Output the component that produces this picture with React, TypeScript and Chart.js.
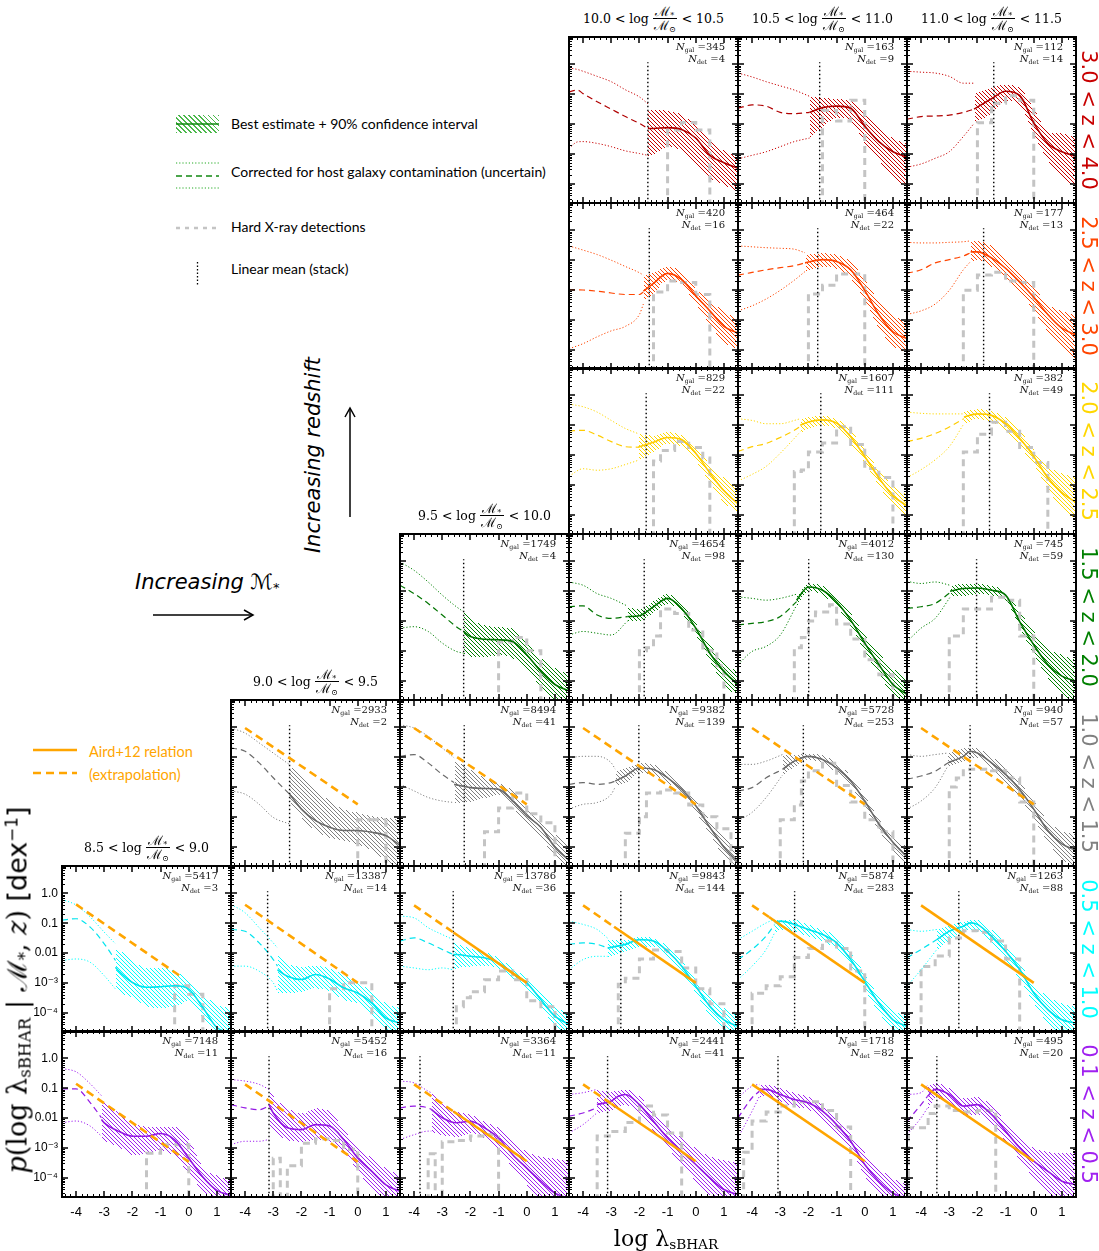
import React, { useEffect, useRef } from 'react';
import { Chart, registerables } from 'chart.js';

Chart.register(...registerables);

// ---------------- axes ----------------
const X_MIN = -4.5;
const X_MAX = 1.5;
const Y_MIN = -4.65;
const Y_MAX = 0.92;
const xTickValues = [-4, -3, -2, -1, 0, 1];
const xTickLabels = ['-4', '-3', '-2', '-1', '0', '1'];
const yTickValues = [-4, -3, -2, -1, 0];
const yTickLabels = ['10⁻⁴', '10⁻³', '0.01', '0.1', '1.0'];

// ---------------- rows (redshift) / columns (mass) ----------------
const zLabels = ['3.0 < z < 4.0', '2.5 < z < 3.0', '2.0 < z < 2.5', '1.5 < z < 2.0', '1.0 < z < 1.5', '0.5 < z < 1.0', '0.1 < z < 0.5'];
const massLow = ['8.5', '9.0', '9.5', '10.0', '10.5', '11.0'];
const massHigh = ['9.0', '9.5', '10.0', '10.5', '11.0', '11.5'];
const rowColors = ['#c80000', '#ff4500', '#ffd700', '#008000', '#808080', '#00ffff', '#a020f0'];
const rowLineColors = ['#b00000', '#ff4500', '#ffcc00', '#007400', '#6a6a6a', '#00e4ee', '#9418e4'];

// ---------------- panels ----------------
const panelRow = [0, 0, 0, 1, 1, 1, 2, 2, 2, 3, 3, 3, 3, 4, 4, 4, 4, 4, 5, 5, 5, 5, 5, 5, 6, 6, 6, 6, 6, 6];
const panelCol = [3, 4, 5, 3, 4, 5, 3, 4, 5, 2, 3, 4, 5, 1, 2, 3, 4, 5, 0, 1, 2, 3, 4, 5, 0, 1, 2, 3, 4, 5];
const nGal = [345, 163, 112, 420, 464, 177, 829, 1607, 382, 1749, 4654, 4012, 745, 2933, 8494, 9382, 5728, 940, 5417, 13387, 13786, 9843, 5874, 1263, 7148, 5452, 3364, 2441, 1718, 495];
const nDet = [4, 9, 14, 16, 22, 13, 22, 111, 49, 4, 98, 130, 59, 2, 41, 139, 253, 57, 3, 14, 36, 144, 283, 88, 11, 16, 11, 41, 82, 20];
const meanX: (number | null)[] = [-1.7, -1.6, -1.42, -1.65, -1.67, -1.78, -1.76, -1.56, -1.57, -2.24, -1.83, -1.99, -2.03, -2.42, -2.22, -2.02, -2.18, -2.26, null, -3.2, -2.61, -2.66, -2.49, -2.66, null, -3.15, -3.79, -3.13, -3.08, -3.44];

// best estimate + 90% interval: [log lambda, lower, best, upper] (log10 p)
const bandRows: number[][][] = [
  [[-1.7, -3.05, -2.15, -1.5], [-1.5, -2.99, -2.15, -1.5], [-1, -2.76, -2.12, -1.55], [-0.5, -2.88, -2.18, -1.67], [0, -3.34, -2.47, -2.07], [0.5, -3.8, -3.05, -2.53], [1, -4.03, -3.3, -2.88], [1.5, -4.26, -3.48, -3.1]],
  [[-1.96, -2.47, -1.61, -1.07], [-1.5, -2.07, -1.45, -1.1], [-1, -1.78, -1.4, -1.15], [-0.5, -1.9, -1.47, -1.21], [0, -2.65, -2.07, -1.61], [0.5, -3.22, -2.59, -2.13], [1, -3.8, -2.93, -2.47], [1.5, -4.09, -3.11, -2.65]],
  [[-2.12, -1.96, -1.5, -0.98], [-1.5, -1.61, -1.15, -0.75], [-1, -1.21, -0.9, -0.67], [-0.5, -1.38, -1.04, -0.78], [0, -2.36, -1.96, -1.5], [0.5, -3.22, -2.65, -2.24], [1, -3.8, -2.93, -2.3], [1.5, -4.09, -3.08, -2.47]],
  [[-1.86, -2.36, -2.04, -1.5], [-1.5, -2.07, -1.78, -1.38], [-1, -1.65, -1.44, -1.21], [-0.5, -1.84, -1.65, -1.38], [0, -2.47, -2.19, -1.96], [0.5, -3.17, -2.7, -2.36], [1, -3.74, -3.22, -2.7], [1.5, -3.97, -3.45, -2.99]],
  [[-2.12, -1.38, -1.09, -0.81], [-1.5, -1.21, -0.98, -0.75], [-1, -1.27, -1.04, -0.81], [-0.5, -1.61, -1.32, -1.04], [0, -2.36, -2.01, -1.67], [0.5, -3.28, -2.82, -2.36], [1, -3.86, -3.4, -2.82], [1.5, -4.09, -3.63, -3.11]],
  [[-2.24, -1.04, -0.72, -0.35], [-2, -0.98, -0.72, -0.33], [-1.5, -1.21, -0.92, -0.52], [-1, -1.61, -1.27, -0.92], [-0.5, -2.07, -1.73, -1.38], [0, -2.7, -2.24, -1.9], [0.5, -3.4, -2.82, -2.47], [1, -3.97, -3.28, -2.7], [1.5, -4.32, -3.51, -2.82]],
  [[-2.05, -2.16, -1.74, -1.28], [-1.5, -1.88, -1.57, -1.33], [-1, -1.61, -1.41, -1.22], [-0.5, -1.72, -1.48, -1.33], [0, -2.21, -1.94, -1.72], [0.5, -2.93, -2.6, -2.32], [1, -3.59, -3.2, -2.76], [1.5, -3.92, -3.64, -3.04]],
  [[-2.29, -1.22, -1.0, -0.78], [-2, -1.11, -0.89, -0.71], [-1.5, -1.0, -0.82, -0.68], [-1, -1.11, -0.93, -0.79], [-0.5, -1.61, -1.39, -1.17], [0, -2.27, -2.05, -1.83], [0.5, -3.04, -2.76, -2.49], [1, -3.7, -3.37, -3.04], [1.5, -4.08, -3.7, -3.31]],
  [[-2.48, -0.95, -0.73, -0.51], [-2, -0.78, -0.62, -0.45], [-1.5, -0.89, -0.67, -0.51], [-1, -1.17, -0.95, -0.73], [-0.5, -1.72, -1.44, -1.17], [0, -2.32, -2.05, -1.83], [0.5, -3.15, -2.76, -2.38], [1, -3.81, -3.26, -2.6], [1.5, -4.14, -3.59, -2.76]],
  [[-2.24, -3.08, -2.35, -1.69], [-2, -3.19, -2.52, -1.91], [-1.5, -3.19, -2.61, -2.13], [-1, -3.13, -2.63, -2.19], [-0.5, -3.24, -2.69, -2.24], [0, -3.57, -3.13, -2.74], [0.5, -4.24, -3.69, -3.24], [1, -4.63, -4.13, -3.57], [1.5, -4.7, -4.35, -3.8]],
  [[-2.42, -1.97, -1.85, -1.52], [-2, -1.97, -1.82, -1.58], [-1.5, -1.69, -1.52, -1.3], [-1, -1.41, -1.24, -1.08], [-0.5, -1.74, -1.58, -1.41], [0, -2.47, -2.24, -2.08], [0.5, -3.35, -3.08, -2.8], [1, -4.13, -3.69, -3.35], [1.5, -4.52, -4.13, -3.74]],
  [[-2.42, -1.47, -1.3, -1.13], [-2, -0.97, -0.86, -0.74], [-1.5, -1.13, -0.97, -0.8], [-1, -1.52, -1.36, -1.19], [-0.5, -2.19, -1.97, -1.74], [0, -3.02, -2.74, -2.47], [0.5, -3.8, -3.46, -3.08], [1, -4.46, -4.13, -3.58], [1.5, -4.7, -4.46, -3.91]],
  [[-2.97, -1.13, -1.0, -0.8], [-2.5, -1.13, -0.91, -0.74], [-2, -1.08, -0.89, -0.74], [-1.5, -1.13, -0.97, -0.8], [-1, -1.3, -1.13, -1.02], [-0.5, -2.24, -2.02, -1.69], [0, -3.13, -2.8, -2.35], [0.5, -3.91, -3.46, -2.91], [1, -4.46, -3.85, -3.13], [1.5, -4.7, -4.02, -3.3]],
  [[-2.42, -2.47, -2.24, -1.3], [-2, -3.02, -2.74, -1.58], [-1.5, -3.46, -3.13, -2.02], [-1, -3.69, -3.35, -2.47], [-0.5, -3.8, -3.46, -2.74], [0, -3.91, -3.46, -2.85], [0.5, -4.13, -3.52, -2.96], [1, -4.46, -3.63, -3.02], [1.5, -4.7, -3.96, -3.08]],
  [[-2.58, -2.52, -1.91, -1.08], [-2, -2.47, -2.02, -1.41], [-1.5, -2.35, -2.05, -1.69], [-1, -2.24, -2.08, -1.85], [-0.5, -2.69, -2.47, -2.13], [0, -3.19, -2.96, -2.74], [0.5, -3.69, -3.35, -3.13], [1, -4.35, -4.02, -3.58], [1.5, -4.7, -4.46, -3.91]],
  [[-2.86, -1.97, -1.8, -1.47], [-2.5, -1.85, -1.63, -1.36], [-2, -1.52, -1.36, -1.19], [-1.5, -1.58, -1.41, -1.24], [-1, -1.85, -1.69, -1.52], [-0.5, -2.24, -2.08, -1.91], [0, -2.85, -2.63, -2.47], [0.5, -3.58, -3.35, -3.13], [1, -4.35, -4.02, -3.69], [1.5, -4.7, -4.52, -4.13]],
  [[-2.92, -1.58, -1.41, -0.91], [-2.5, -1.3, -1.13, -0.91], [-2, -1.08, -0.97, -0.86], [-1.5, -1.19, -1.08, -0.91], [-1, -1.52, -1.36, -1.19], [-0.5, -1.97, -1.8, -1.63], [0, -2.69, -2.47, -2.3], [0.5, -3.46, -3.24, -3.08], [1, -4.13, -3.85, -3.63], [1.5, -4.7, -4.35, -4.02]],
  [[-3.05, -1.3, -1.19, -0.86], [-2.5, -1.13, -0.97, -0.69], [-2.25, -1.02, -0.8, -0.66], [-2, -1.02, -0.86, -0.69], [-1.5, -1.41, -1.19, -0.97], [-1, -1.85, -1.58, -1.36], [-0.5, -2.35, -2.08, -1.85], [0, -3.08, -2.74, -2.47], [0.5, -3.85, -3.46, -3.13], [1, -4.41, -3.91, -3.46], [1.5, -4.7, -4.13, -3.58]],
  [[-2.6, -3.21, -2.48, -1.75], [-2.5, -3.3, -2.59, -1.85], [-2, -3.49, -2.99, -2.25], [-1.5, -3.77, -3.15, -2.48], [-1, -3.83, -3.13, -2.48], [-0.5, -3.77, -3.1, -2.59], [0, -3.6, -3.21, -2.93], [0.5, -4.17, -3.83, -3.38], [1, -4.62, -4.5, -3.72], [1.5, -4.7, -4.68, -3.83]],
  [[-2.85, -3.34, -2.56, -2.05], [-2.5, -3.34, -2.78, -2.33], [-2, -3.28, -2.89, -2.44], [-1.5, -3.17, -2.72, -2.42], [-1, -3.28, -2.87, -2.5], [-0.5, -3.56, -3.17, -2.72], [0, -3.68, -3.34, -3.0], [0.5, -4.12, -3.68, -3.28], [1, -4.57, -4.18, -3.68], [1.5, -4.7, -4.35, -3.84]],
  [[-2.61, -2.56, -2.05, -1.55], [-2.5, -2.5, -2.05, -1.66], [-2, -2.44, -2.11, -1.83], [-1.5, -2.42, -2.16, -1.94], [-1, -2.5, -2.33, -2.16], [-0.5, -2.84, -2.67, -2.5], [0, -3.17, -3.0, -2.84], [0.5, -3.79, -3.56, -3.34], [1, -4.46, -4.12, -3.79], [1.5, -4.7, -4.4, -4.01]],
  [[-3.13, -2.11, -1.83, -1.55], [-2.5, -1.94, -1.71, -1.55], [-2, -1.77, -1.55, -1.43], [-1.5, -1.77, -1.6, -1.49], [-1, -2.11, -1.94, -1.77], [-0.5, -2.67, -2.44, -2.27], [0, -3.34, -3.11, -2.89], [0.5, -4.12, -3.79, -3.45], [1, -4.57, -4.24, -3.84], [1.5, -4.7, -4.46, -4.07]],
  [[-3.2, -1.32, -0.98, -0.87], [-3, -1.21, -0.93, -0.87], [-2.5, -1.27, -1.04, -0.87], [-2, -1.43, -1.21, -1.04], [-1.5, -1.6, -1.38, -1.21], [-1, -1.88, -1.66, -1.43], [-0.5, -2.44, -2.22, -1.99], [0, -3.23, -2.95, -2.72], [0.5, -4.01, -3.68, -3.45], [1, -4.57, -4.24, -3.9], [1.5, -4.7, -4.46, -4.12]],
  [[-3.44, -1.88, -1.55, -1.21], [-3, -1.55, -1.27, -1.04], [-2.5, -1.27, -1.1, -0.93], [-2.25, -1.22, -0.99, -0.88], [-2, -1.27, -1.04, -0.87], [-1.5, -1.66, -1.43, -1.21], [-1, -2.22, -1.94, -1.71], [-0.5, -2.89, -2.55, -2.33], [0, -3.68, -3.34, -3.06], [0.5, -4.35, -3.9, -3.45], [1, -4.7, -4.24, -3.68], [1.5, -4.7, -4.35, -3.79]],
  [[-3.1, -2.67, -2.05, -1.36], [-3, -2.75, -2.16, -1.45], [-2.5, -2.95, -2.44, -1.82], [-2, -3.24, -2.61, -2.16], [-1.5, -3.18, -2.61, -2.27], [-1, -3.07, -2.52, -2.27], [-0.5, -3.3, -2.73, -2.27], [0, -3.86, -3.35, -2.73], [0.5, -4.43, -3.98, -3.64], [1, -4.7, -4.43, -3.92], [1.5, -4.7, -4.6, -4.09]],
  [[-3.15, -2.22, -1.55, -1.04], [-3, -2.44, -1.83, -1.27], [-2.5, -2.72, -2.33, -1.66], [-2, -2.78, -2.39, -1.83], [-1.5, -2.72, -2.22, -1.66], [-1, -2.78, -2.27, -1.77], [-0.5, -3.12, -2.72, -2.39], [0, -3.79, -3.34, -2.95], [0.5, -4.35, -3.79, -3.34], [1, -4.7, -4.24, -3.68], [1.5, -4.7, -4.46, -3.9]],
  [[-3.39, -2.44, -1.71, -1.15], [-3, -2.56, -1.99, -1.49], [-2.5, -2.61, -2.16, -1.77], [-2, -2.5, -2.11, -1.88], [-1.5, -2.67, -2.33, -2.11], [-1, -3.06, -2.67, -2.33], [-0.5, -3.68, -3.23, -2.78], [0, -4.24, -3.68, -3.12], [0.5, -4.7, -4.12, -3.28], [1, -4.7, -4.52, -3.34], [1.5, -4.7, -4.7, -3.45]],
  [[-3.51, -1.83, -1.55, -1.04], [-3, -1.71, -1.43, -1.1], [-2.75, -1.6, -1.27, -1.07], [-2.5, -1.55, -1.21, -1.04], [-2, -1.83, -1.55, -1.27], [-1.5, -2.44, -2.11, -1.83], [-1, -3.0, -2.67, -2.27], [-0.5, -3.56, -3.12, -2.67], [0, -4.12, -3.56, -3.0], [0.5, -4.57, -4.01, -3.28], [1, -4.7, -4.4, -3.4], [1.5, -4.7, -4.57, -3.51]],
  [[-3.74, -1.27, -1.04, -0.87], [-3.5, -1.21, -1.04, -0.87], [-3, -1.43, -1.21, -0.99], [-2.5, -1.6, -1.38, -1.15], [-2, -1.71, -1.49, -1.27], [-1.5, -2.05, -1.77, -1.55], [-1, -2.5, -2.22, -2.0], [-0.5, -3.06, -2.78, -2.55], [0, -3.96, -3.56, -3.17], [0.5, -4.52, -4.12, -3.68], [1, -4.7, -4.52, -4.01], [1.5, -4.7, -4.7, -4.24]],
  [[-3.77, -1.66, -1.27, -0.87], [-3.5, -1.32, -1.04, -0.82], [-3, -1.49, -1.21, -0.99], [-2.5, -1.88, -1.6, -1.32], [-2, -1.88, -1.55, -1.27], [-1.5, -2.22, -1.88, -1.6], [-1, -2.78, -2.44, -2.11], [-0.5, -3.4, -3.0, -2.67], [0, -4.01, -3.45, -3.0], [0.5, -4.52, -3.79, -3.12], [1, -4.7, -4.12, -3.17], [1.5, -4.7, -4.24, -3.17]],
];

// corrected for host contamination: [log lambda, dotted lower, dashed, dotted upper]
const corrRows: number[][][] = [
  [[-4.5, -2.82, -0.92, -0.12], [-4.2, -2.6, -0.86, -0.17], [-4, -2.59, -0.98, -0.23], [-3.5, -2.65, -1.25, -0.4], [-3, -2.76, -1.5, -0.58], [-2.5, -2.9, -1.75, -0.85], [-2, -2.99, -1.98, -1.09], [-1.7, -3.05, -2.15, -1.32]],
  [[-4.5, -3.17, -1.47, -0.29], [-4, -3.05, -1.36, -0.42], [-3.5, -2.93, -1.4, -0.58], [-3, -2.76, -1.61, -0.72], [-2.5, -2.59, -1.65, -0.86], [-1.96, -2.47, -1.61, -1.07]],
  [[-4.5, -3.45, -1.84, -0.23], [-4, -3.34, -1.75, -0.26], [-3.5, -3.15, -1.73, -0.29], [-3, -2.93, -1.7, -0.4], [-2.5, -2.42, -1.61, -0.63], [-2.12, -1.98, -1.5, -0.63]],
  [[-4.5, -3.97, -1.99, -0.52], [-4, -3.8, -2.0, -0.66], [-3.5, -3.57, -2.04, -0.81], [-3, -3.37, -2.1, -1.0], [-2.5, -3.22, -2.15, -1.21], [-2, -2.82, -2.15, -1.42], [-1.86, -2.47, -2.07, -1.5]],
  [[-4.5, -2.7, -1.5, -0.52], [-4, -2.53, -1.41, -0.55], [-3.5, -2.3, -1.32, -0.58], [-3, -2.01, -1.25, -0.6], [-2.5, -1.67, -1.18, -0.63], [-2.12, -1.38, -1.09, -0.75]],
  [[-4.5, -2.82, -1.44, -0.4], [-4, -2.7, -1.32, -0.42], [-3.5, -2.47, -1.09, -0.42], [-3, -2.01, -0.98, -0.4], [-2.5, -1.32, -0.86, -0.38], [-2.24, -1.04, -0.75, -0.35]],
  [[-4.5, -2.71, -1.19, -0.29], [-4, -2.46, -1.17, -0.38], [-3.5, -2.51, -1.33, -0.56], [-3, -2.46, -1.55, -0.84], [-2.5, -2.32, -1.72, -1.11], [-2.05, -2.18, -1.74, -1.28]],
  [[-4.5, -2.87, -1.88, -0.78], [-4, -2.65, -1.72, -0.84], [-3.5, -2.38, -1.61, -0.95], [-3, -1.94, -1.41, -0.95], [-2.5, -1.44, -1.17, -0.84], [-2.29, -1.22, -1.04, -0.78]],
  [[-4.5, -2.76, -1.55, -0.56], [-4, -2.49, -1.44, -0.6], [-3.5, -2.16, -1.28, -0.62], [-3, -1.72, -1.06, -0.62], [-2.48, -0.95, -0.78, -0.62]],
  [[-4.5, -2.24, -0.8, -0.02], [-4, -2.19, -1.08, -0.3], [-3.5, -2.35, -1.41, -0.69], [-3, -2.74, -1.8, -1.13], [-2.5, -3.02, -2.19, -1.52], [-2.24, -3.08, -2.35, -1.69]],
  [[-4.5, -2.47, -1.52, -0.69], [-4, -2.35, -1.49, -0.8], [-3.5, -2.41, -1.8, -1.08], [-3, -2.47, -1.91, -1.24], [-2.42, -2.0, -1.85, -1.5]],
  [[-4.5, -3.46, -2.13, -1.19], [-4, -3.02, -2.08, -1.24], [-3.5, -2.85, -2.02, -1.3], [-3, -2.47, -1.85, -1.24], [-2.42, -1.47, -1.35, -1.1]],
  [[-4.5, -2.69, -1.58, -0.67], [-4, -2.24, -1.52, -0.74], [-3.5, -1.91, -1.41, -0.69], [-2.97, -1.2, -1.05, -0.8]],
  [[-4.5, -2.13, -0.69, -0.02], [-4, -2.24, -0.8, -0.19], [-3.5, -2.58, -1.19, -0.52], [-3, -3.02, -1.69, -0.86], [-2.42, -3.24, -2.24, -1.25]],
  [[-4.5, -1.91, -0.97, 0.09], [-4, -2.13, -0.91, -0.02], [-3.5, -2.35, -1.19, -0.3], [-3, -2.47, -1.58, -0.69], [-2.58, -2.52, -1.85, -1.02]],
  [[-4.5, -2.74, -1.91, -1.02], [-4, -2.58, -1.85, -0.97], [-3.5, -2.52, -1.91, -0.97], [-3, -2.24, -1.85, -1.19], [-2.86, -2.0, -1.8, -1.4]],
  [[-4.5, -3.13, -2.13, -1.24], [-4, -2.85, -2.02, -1.24], [-3.5, -2.35, -1.69, -1.13], [-2.92, -1.6, -1.41, -0.91]],
  [[-4.5, -2.74, -1.74, -0.91], [-4, -2.47, -1.63, -0.97], [-3.5, -2.02, -1.47, -0.91], [-3.05, -1.3, -1.19, -0.86]],
  [[-4.5, -2.25, -0.9, -0.2], [-4, -2.2, -0.85, -0.39], [-3.5, -2.31, -1.13, -0.79], [-3, -2.76, -1.69, -1.3], [-2.6, -3.21, -2.25, -1.69]],
  [[-4.5, -2.44, -1.21, -0.37], [-4, -2.44, -1.27, -0.65], [-3.5, -2.61, -1.66, -1.15], [-3, -3.0, -2.22, -1.66], [-2.85, -3.28, -2.44, -1.83]],
  [[-4.5, -2.44, -1.6, -0.76], [-4, -2.5, -1.49, -0.82], [-3.5, -2.56, -1.66, -1.15], [-3, -2.5, -1.88, -1.38], [-2.61, -2.56, -2.05, -1.55]],
  [[-4.5, -2.56, -1.71, -0.93], [-4, -2.22, -1.66, -1.04], [-3.5, -2.11, -1.71, -1.21], [-3.13, -2.11, -1.83, -1.5]],
  [[-4.5, -2.89, -2.22, -1.55], [-4, -2.44, -1.88, -1.27], [-3.5, -1.88, -1.43, -0.99], [-3.2, -1.32, -1.05, -0.87]],
  [[-4.5, -3.11, -2.16, -1.21], [-4, -2.56, -1.88, -1.27], [-3.44, -1.88, -1.55, -1.21]],
  [[-4.5, -2.16, -1.02, -0.34], [-4, -2.1, -1.02, -0.45], [-3.5, -2.27, -1.48, -0.85], [-3.1, -2.61, -1.99, -1.25]],
  [[-4.5, -2.89, -1.55, -0.71], [-4, -2.78, -1.66, -0.76], [-3.5, -2.78, -1.72, -0.87], [-3.15, -2.72, -1.6, -1.04]],
  [[-4.5, -2.72, -1.66, -0.76], [-4, -2.56, -1.6, -0.82], [-3.5, -2.44, -1.66, -1.1], [-3.39, -2.44, -1.71, -1.15]],
  [[-4.5, -2.5, -1.94, -1.21], [-4, -2.22, -1.83, -1.15], [-3.51, -1.83, -1.66, -1.04]],
  [[-4.5, -2.67, -1.99, -1.32], [-4, -1.77, -1.32, -0.93], [-3.74, -1.27, -1.1, -0.87]],
  [[-4.5, -2.56, -2.11, -1.21], [-4, -1.99, -1.55, -1.15], [-3.77, -1.66, -1.27, -0.9]],
];

// hard X-ray detections histogram: bin edges and log10 heights
const histEdges: number[][] = [
  [-1, -0.5, 0, 0.5], [-1.5, -1, -0.5, 0], [-2, -1.5, -1, -0.5, 0],
  [-1.5, -1, -0.5, 0, 0.5], [-2, -1.5, -1, -0.5, 0], [-2.5, -2, -1.5, -1, -0.5, 0],
  [-1.5, -1.25, -0.75, -0.25, 0.25, 0.5], [-2.5, -2.25, -2, -1.5, -1, -0.5, 0, 0.5, 1], [-2.5, -2, -1.5, -1, -0.5, 0, 0.5],
  [-1, -0.5, 0, 0.5], [-2, -1.75, -1.5, -1.25, -0.75, -0.25, 0.25, 0.75, 1.0], [-2.5, -2.25, -2, -1.75, -1.25, -1, -0.5, 0, 0.5, 1], [-3, -2.5, -2, -1.5, -1, -0.5, 0],
  [0, 0.5, 1], [-1.5, -1, -0.5, 0, 0.5, 1], [-2.5, -2, -1.75, -1.25, -0.75, -0.25, 0.25, 0.75, 1.25], [-3, -2.5, -2.25, -2, -1.5, -1, -0.5, 0, 0.5, 1], [-3, -2.75, -2.5, -2, -1.5, -1, -0.5, 0],
  [-0.5, 0, 0.5], [-1, -0.5, 0, 0.5], [-2.5, -2.25, -2, -1.5, -1, -0.5, 0, 0.5, 1], [-2.75, -2.5, -2, -1.5, -1, -0.5, 0, 0.5, 1], [-4, -3.5, -3, -2.5, -2, -1.5, -1, -0.5, 0], [-4, -3.5, -3, -2.5, -2, -1.5, -1, -0.5],
  [-1.5, -1, 0], [-3, -2.75, -2.5, -2, -1.5, -1, -0.5, 0], [-3.5, -3.25, -3, -2.5, -2, -1.5, -1], [-3.5, -3, -2.5, -2, -1.5, -1, -0.5], [-4.3, -4, -3.5, -3, -2.5, -2, -1.5, -1, -0.5], [-4.45, -3.75, -3.5, -3, -2.5, -2, -1.35],
];
const histHeights: number[][] = [
  [-2.2, -1.95, -2.2], [-1.55, -1.9, -1.2], [-1.96, -1.3, -1.05, -1.2],
  [-2.07, -1.7, -1.75, -2.15], [-2.13, -1.84, -1.46, -1.46], [-2.01, -1.5, -1.4, -1.7, -1.75],
  [-2.2, -1.85, -1.55, -1.75, -2.1], [-2.55, -2.5, -1.9, -1.6, -1.05, -1.65, -2.45, -2.75], [-1.9, -1.3, -0.9, -1.2, -1.75, -2.25],
  [-2.7, -2.55, -3.0], [-3.0, -2.9, -2.5, -1.6, -1.75, -2.3, -3.0, -3.5], [-2.9, -2.55, -2.0, -1.7, -1.45, -2.1, -2.6, -3.3, -3.8], [-2.5, -1.6, -1.6, -1.2, -1.3, -2.5],
  [-3.1, -3.1], [-3.5, -2.7, -2.2, -2.9, -3.2], [-3.55, -3.0, -2.2, -2.1, -2.2, -2.6, -3.0, -3.4], [-3.1, -2.6, -1.8, -1.45, -1.2, -1.95, -2.5, -3.1, -3.5], [-2.0, -1.7, -1.4, -1.4, -1.45, -1.7, -2.5],
  [-3.1, -3.38], [-3.2, -3.0, -3.0], [-3.8, -3.5, -3.3, -2.9, -2.6, -2.9, -3.6, -3.8], [-3.05, -2.85, -2.2, -1.9, -1.95, -2.5, -3.2, -3.7], [-3.35, -3.1, -2.8, -2.15, -1.85, -1.6, -1.85, -2.6], [-2.45, -2.1, -1.5, -1.25, -1.3, -1.6, -2.2],
  [-3.18, -2.9], [-3.35, -4.7, -3.6, -2.85, -2.7, -2.75, -3.05], [-3.2, -4.7, -2.8, -2.75, -2.6, -2.55], [-2.6, -2.45, -2.15, -1.6, -1.9, -2.5], [-3.15, -2.1, -1.8, -1.6, -1.45, -1.45, -1.75, -2.3], [-2.33, -1.85, -1.6, -1.75, -1.8, -1.75],
];

// Aird+12 relation: dashed (extrapolation) and solid parts, [log lambda, log p]
const A4 = [[-4, -0.02], [0, -2.58]];
const airdDashed: (number[][] | null)[] = [
  null, null, null, null, null, null, null, null, null, null, null, null, null,
  A4, A4, A4, A4, A4,
  [[-4, -0.37], [-0.2, -2.84]], [[-4, -0.38], [0, -3.0]], [[-4, -0.4], [-2.6, -1.31]], [[-4, -0.4], [-2.9, -1.12]], [[-4, -0.4], [-3.4, -0.79]], null,
  [[-4, -0.85], [0, -3.47]], [[-4, -0.87], [0, -3.47]], [[-4, -0.87], [-2.6, -1.78]], [[-4, -0.87], [-3.0, -1.52]], null, null,
];
const airdSolid: (number[][] | null)[] = [
  null, null, null, null, null, null, null, null, null, null, null, null, null,
  null, null, null, null, null,
  null, null, [[-2.6, -1.31], [0, -3.0]], [[-2.9, -1.12], [0, -3.0]], [[-3.4, -0.79], [0, -3.0]], [[-4, -0.4], [0, -3.0]],
  null, null, [[-2.6, -1.78], [0, -3.45]], [[-3.0, -1.52], [0, -3.45]], [[-4, -0.87], [0, -3.45]], [[-4, -0.87], [0, -3.45]],
];

// ---------------- layout / style ----------------
const COL_LEFT = [62, 231, 400, 569, 738, 907];
const PANEL_W = 169;
const PANEL_H = 166;
const rowTop = (r: number) => Math.round(37 + r * 165.7);
const firstRowOfCol = [5, 4, 3, 0, 0, 0];
const AXIS_LEFT_W = 55;
const AXIS_BOTTOM_H = 30;
const FLOOR = -6;
const MEAN_TOP = 0.07;
const HATCH_STEP = 4;
const HIST_COLOR = '#c4c4c4';
const ORANGE = '#ffa500';
const TICK_FONT = "'Liberation Sans', 'DejaVu Sans', Arial, sans-serif";
const SERIF = "'DejaVu Serif', 'Liberation Serif', serif";
const SANS = "Lato, 'DejaVu Sans', sans-serif";

const xMinor: number[] = [];
for (let i = -44; i <= 14; i += 2) if (i % 10 !== 0) xMinor.push(i / 10);
const yMinor: number[] = [];
for (let d = -5; d <= 0; d++) for (let k = 2; k <= 9; k++) {
  const v = d + Math.log10(k);
  if (v > Y_MIN && v < Y_MAX) yMinor.push(v);
}

// hatched confidence band between the lower (dataset 0) and upper (dataset 1)
// curves. Curve pixel positions come from Chart.js (interpolate); the hatch is
// laid down as crisp, fully opaque diagonal pixel lines inside the band.
function makeHatchPlugin(color: string) {
  return {
    id: 'bandHatch',
    beforeDatasetsDraw(chart: any) {
      const { ctx, chartArea: a } = chart;
      const lo = chart.getDatasetMeta(0).dataset;
      const hi = chart.getDatasetMeta(1).dataset;
      if (!lo || !hi || !lo.points || lo.points.length < 2) return;
      lo.updateControlPoints(a, 'x');
      hi.updateControlPoints(a, 'x');
      const xs = Math.ceil(Math.max(a.left, lo.points[0].x));
      const xe = Math.floor(Math.min(a.right - 1, lo.points[lo.points.length - 1].x));
      const top = Math.round(a.top);
      ctx.save();
      ctx.globalAlpha = 1;
      ctx.globalCompositeOperation = 'source-over';
      ctx.fillStyle = color;
      for (let x = xs; x <= xe; x++) {
        const ph = hi.interpolate({ x }, 'x');
        const pl = lo.interpolate({ x }, 'x');
        const yh = ph && !Array.isArray(ph) ? ph.y : (Array.isArray(ph) && ph.length ? ph[0].y : NaN);
        const yl = pl && !Array.isArray(pl) ? pl.y : (Array.isArray(pl) && pl.length ? pl[0].y : NaN);
        const y0 = Math.ceil(Math.max(a.top, yh));
        const y1 = Math.floor(Math.min(a.bottom - 1, yl));
        if (!(y1 >= y0)) continue;
        for (let y = y0; y <= y1; y++) {
          const d = (((x - y - top) % HATCH_STEP) + HATCH_STEP) % HATCH_STEP;
          if (d === 0) ctx.fillRect(x, y, 1, 1);
        }
      }
      ctx.restore();
    },
  };
}

const framePlugin = {
  id: 'panelFrame',
  afterDatasetsDraw(chart: any) {
    const { ctx, chartArea: a, scales } = chart;
    const sx = scales.x, sy = scales.y;
    ctx.save();
    ctx.setLineDash([]);
    ctx.strokeStyle = '#000';
    const seg = (x1: number, y1: number, x2: number, y2: number) => { ctx.moveTo(x1, y1); ctx.lineTo(x2, y2); };
    ctx.beginPath();
    ctx.lineWidth = 1;
    xMinor.forEach((v) => { const px = Math.round(sx.getPixelForValue(v)) + 0.5; seg(px, a.bottom, px, a.bottom - 3); seg(px, a.top, px, a.top + 3); });
    yMinor.forEach((v) => { const py = Math.round(sy.getPixelForValue(v)) + 0.5; seg(a.left, py, a.left + 3, py); seg(a.right, py, a.right - 3, py); });
    ctx.stroke();
    ctx.beginPath();
    ctx.lineWidth = 1.5;
    xTickValues.forEach((v) => { const px = Math.round(sx.getPixelForValue(v)); seg(px, a.bottom, px, a.bottom - 6); seg(px, a.top, px, a.top + 6); });
    yTickValues.forEach((v) => { const py = Math.round(sy.getPixelForValue(v)); seg(a.left, py, a.left + 6, py); seg(a.right, py, a.right - 6, py); });
    ctx.stroke();
    ctx.lineWidth = 2;
    ctx.strokeRect(a.left, a.top, a.right - a.left, a.bottom - a.top);
    ctx.restore();
  },
};

const pts = (rows: number[][], j: number) => rows.map((q) => ({ x: q[0], y: q[j] }));

function buildConfig(p: number): any {
  const r = panelRow[p], c = panelCol[p];
  const isLeft = c === 0, isBottom = r === 6;
  const col = rowColors[r], lcol = rowLineColors[r];
  const base = { pointRadius: 0, pointHoverRadius: 0, fill: false, clip: 0, cubicInterpolationMode: 'monotone' };
  const ds: any[] = [];
  const b = bandRows[p];
  ds.push({ ...base, data: pts(b, 1), borderWidth: 1, borderColor: 'rgba(255,255,255,0)', order: 60 });
  ds.push({ ...base, data: pts(b, 3), borderWidth: 1, borderColor: 'rgba(255,255,255,0)', order: 60 });
  ds.push({ ...base, data: pts(b, 2), borderColor: lcol, borderWidth: 1.6, order: 20 });
  const cr = corrRows[p];
  ds.push({ ...base, data: pts(cr, 1), borderColor: col, borderWidth: 1, borderDash: [1.2, 2], order: 40 });
  ds.push({ ...base, data: pts(cr, 2), borderColor: lcol, borderWidth: 1.2, borderDash: [6, 4], order: 40 });
  ds.push({ ...base, data: pts(cr, 3), borderColor: col, borderWidth: 1, borderDash: [1.2, 2], order: 40 });
  const e = histEdges[p], hh = histHeights[p];
  const hd: any[] = [{ x: e[0], y: FLOOR }];
  hh.forEach((v, i) => hd.push({ x: e[i], y: v }));
  hd.push({ x: e[e.length - 1], y: hh[hh.length - 1] });
  hd.push({ x: e[e.length - 1], y: FLOOR });
  ds.push({ data: hd, stepped: 'before', borderColor: HIST_COLOR, borderWidth: 3, borderDash: [7, 5], pointRadius: 0, fill: false, clip: 0, order: 50 });
  const m = meanX[p];
  if (m !== null) {
    ds.push({ data: [{ x: m, y: FLOOR }, { x: m, y: MEAN_TOP }], borderColor: '#000', borderWidth: 1.4, borderDash: [1.5, 2.5], pointRadius: 0, fill: false, clip: 0, order: 30 });
  }
  const ad = airdDashed[p];
  if (ad) ds.push({ data: ad.map((q) => ({ x: q[0], y: q[1] })), borderColor: ORANGE, borderWidth: 2.6, borderDash: [8, 5], pointRadius: 0, fill: false, clip: 0, order: 10 });
  const as = airdSolid[p];
  if (as) ds.push({ data: as.map((q) => ({ x: q[0], y: q[1] })), borderColor: ORANGE, borderWidth: 2.6, pointRadius: 0, fill: false, clip: 0, order: 10 });

  return {
    type: 'line',
    data: { datasets: ds },
    plugins: [makeHatchPlugin(rowColors[r]), framePlugin],
    options: {
      animation: false,
      responsive: false,
      maintainAspectRatio: false,
      events: [],
      layout: { padding: 1 },
      plugins: { legend: { display: false }, tooltip: { enabled: false }, colors: { enabled: false } },
      scales: {
        x: {
          type: 'linear', min: X_MIN, max: X_MAX, display: isBottom,
          grid: { display: false, drawTicks: false }, border: { display: false },
          ticks: { color: '#000', font: { family: TICK_FONT, size: 13 }, padding: 8, maxRotation: 0, autoSkip: false, callback: (_v: any, i: number) => xTickLabels[i] },
          afterBuildTicks: (ax: any) => { ax.ticks = xTickValues.map((v) => ({ value: v })); },
          afterFit: (ax: any) => { ax.height = isBottom ? AXIS_BOTTOM_H : 0; ax.paddingLeft = 0; ax.paddingRight = 0; },
        },
        y: {
          type: 'linear', min: Y_MIN, max: Y_MAX, display: isLeft,
          grid: { display: false, drawTicks: false }, border: { display: false },
          ticks: { color: '#000', font: { family: TICK_FONT, size: 12 }, padding: 4, autoSkip: false, callback: (_v: any, i: number) => yTickLabels[i] },
          afterBuildTicks: (ax: any) => { ax.ticks = yTickValues.map((v) => ({ value: v })); },
          afterFit: (ax: any) => { ax.width = isLeft ? AXIS_LEFT_W : 0; ax.paddingTop = 0; ax.paddingBottom = 0; },
        },
      },
    },
  };
}

function Panel({ p }: { p: number }) {
  const ref = useRef<HTMLCanvasElement>(null);
  const r = panelRow[p], c = panelCol[p];
  const padL = c === 0 ? AXIS_LEFT_W : 0;
  const padB = r === 6 ? AXIS_BOTTOM_H : 0;
  const w = PANEL_W + padL + 2, h = PANEL_H + padB + 2;
  useEffect(() => {
    const canvas = ref.current!;
    canvas.getContext('2d', { willReadFrequently: true });
    const chart = new Chart(canvas, buildConfig(p));
    return () => chart.destroy();
  }, [p]);
  return (
    <canvas ref={ref} width={w} height={h}
      style={{ position: 'absolute', left: COL_LEFT[c] - padL - 1, top: rowTop(r) - 1, width: w, height: h }} />
  );
}

const subStyle: React.CSSProperties = { fontSize: '0.62em', verticalAlign: '-0.25em', lineHeight: 0, fontStyle: 'normal' };
const supStyle: React.CSSProperties = { fontSize: '0.62em', verticalAlign: '0.55em', lineHeight: 0 };

function NLabel({ p }: { p: number }) {
  const r = panelRow[p], c = panelCol[p];
  return (
    <div style={{ position: 'absolute', right: 1099 - (COL_LEFT[c] + PANEL_W - 13), top: rowTop(r) + 4, textAlign: 'right', font: `10px ${SERIF}`, lineHeight: '12px', color: '#111', whiteSpace: 'nowrap' }}>
      <div><i>N</i><span style={subStyle}>gal</span> ={nGal[p]}</div>
      <div><i>N</i><span style={subStyle}>det</span> ={nDet[p]}</div>
    </div>
  );
}

function MassTitle({ c }: { c: number }) {
  return (
    <div style={{ position: 'absolute', left: COL_LEFT[c] - 20, width: PANEL_W + 40, top: rowTop(firstRowOfCol[c]) - 35, height: 32, display: 'flex', alignItems: 'center', justifyContent: 'center', font: `12.5px ${SERIF}`, whiteSpace: 'nowrap', color: '#000' }}>
      <span>{massLow[c]} &lt; log</span>
      <span style={{ display: 'inline-flex', flexDirection: 'column', alignItems: 'center', margin: '0 5px 0 4px', fontSize: 13, lineHeight: '13px' }}>
        <span style={{ padding: '0 1px' }}>ℳ<span style={subStyle}>*</span></span>
        <span style={{ borderTop: '1px solid #000', padding: '0 1px' }}>ℳ<span style={subStyle}>⊙</span></span>
      </span>
      <span>&lt; {massHigh[c]}</span>
    </div>
  );
}

export default function App() {
  const rotated = (x: number, y: number, deg: number): React.CSSProperties => ({
    position: 'absolute', left: x, top: y, transform: `translate(-50%, -50%) rotate(${deg}deg)`, whiteSpace: 'nowrap',
  });
  return (
    <div style={{ position: 'absolute', left: 0, top: 0, width: 1099, height: 1251, background: '#fff', overflow: 'hidden' }}>
      {panelRow.map((_, p) => <Panel key={p} p={p} />)}
      {panelRow.map((_, p) => <NLabel key={'n' + p} p={p} />)}
      {massLow.map((_, c) => <MassTitle key={'m' + c} c={c} />)}
      {zLabels.map((t, r) => (
        <div key={'z' + r} style={{ ...rotated(1089, rowTop(r) + 83, 90), color: rowColors[r], font: `21px 'DejaVu Sans', sans-serif` }}>{t}</div>
      ))}

      {/* axis titles */}
      <div style={{ ...rotated(16, 990, -90), font: `27px ${SERIF}`, color: '#000' }}>
        <i>p</i>(log λ<span style={subStyle}>sBHAR</span> | ℳ<span style={subStyle}>*</span>, <i>z</i>) <span style={{ fontFamily: "'DejaVu Sans', sans-serif" }}>[dex<span style={supStyle}>−1</span>]</span>
      </div>
      <div style={{ ...rotated(666, 1238, 0), font: `22px ${SERIF}`, color: '#000' }}>
        log λ<span style={subStyle}>sBHAR</span>
      </div>

      {/* direction annotations */}
      <div style={{ position: 'absolute', left: 135, top: 582, transform: 'translateY(-50%)', font: `italic 21px 'DejaVu Sans', sans-serif`, whiteSpace: 'nowrap' }}>
        Increasing ℳ<span style={subStyle}>*</span>
      </div>
      <div style={{ ...rotated(313, 455, -90), font: `italic 21px 'DejaVu Sans', sans-serif` }}>Increasing redshift</div>

      {/* legend */}
      <div style={{ position: 'absolute', left: 176, top: 115, width: 43, height: 18, background: 'repeating-linear-gradient(45deg, #4cb84c 0px, #4cb84c 1px, transparent 1px, transparent 3.5px)' }} />
      {[
        ['Best estimate + 90% confidence interval', 124],
        ['Corrected for host galaxy contamination (uncertain)', 172],
        ['Hard X-ray detections', 227],
        ['Linear mean (stack)', 269],
      ].map(([t, y]) => (
        <div key={t as string} style={{ position: 'absolute', left: 231, top: (y as number) - 9, height: 18, lineHeight: '18px', font: `14px ${SANS}`, color: '#000', whiteSpace: 'nowrap' }}>{t}</div>
      ))}
      <div style={{ position: 'absolute', left: 89, top: 743, lineHeight: '18px', font: `14.5px ${SANS}`, color: ORANGE, whiteSpace: 'nowrap' }}>Aird+12 relation</div>
      <div style={{ position: 'absolute', left: 89, top: 766, lineHeight: '18px', font: `14.5px ${SANS}`, color: ORANGE, whiteSpace: 'nowrap' }}>(extrapolation)</div>

      <svg width={1099} height={1251} style={{ position: 'absolute', left: 0, top: 0, pointerEvents: 'none' }}>
        <line x1={176} y1={124} x2={219} y2={124} stroke="#118811" strokeWidth={1.6} />
        <line x1={176} y1={163} x2={219} y2={163} stroke="#22aa22" strokeWidth={1} strokeDasharray="1.2 2" />
        <line x1={176} y1={176} x2={219} y2={176} stroke="#118811" strokeWidth={1.3} strokeDasharray="6 4" />
        <line x1={176} y1={188} x2={219} y2={188} stroke="#22aa22" strokeWidth={1} strokeDasharray="1.2 2" />
        <line x1={176} y1={228} x2={219} y2={228} stroke={HIST_COLOR} strokeWidth={2.5} strokeDasharray="4 5" />
        <line x1={197.5} y1={262} x2={197.5} y2={286} stroke="#000" strokeWidth={1.3} strokeDasharray="1.5 2" />
        <line x1={33} y1={750} x2={77} y2={750} stroke={ORANGE} strokeWidth={2.5} />
        <line x1={33} y1={773} x2={77} y2={773} stroke={ORANGE} strokeWidth={2.5} strokeDasharray="8 5" />
        <line x1={153} y1={615} x2={252} y2={615} stroke="#000" strokeWidth={1.5} />
        <polyline points="244,610 253,615 244,620" fill="none" stroke="#000" strokeWidth={1.5} />
        <line x1={350} y1={517} x2={350} y2={409} stroke="#000" strokeWidth={1.5} />
        <polyline points="345,417 350,408 355,417" fill="none" stroke="#000" strokeWidth={1.5} />
      </svg>
    </div>
  );
}
